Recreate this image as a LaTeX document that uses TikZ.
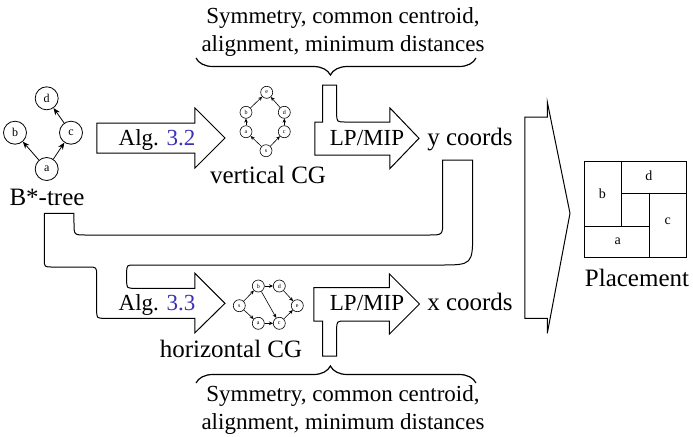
\documentclass[tikz,border=0pt]{standalone}
\usepackage{fontspec}
\setmainfont{Liberation Serif}
\usetikzlibrary{arrows.meta,decorations.pathreplacing}

\definecolor{refblue}{RGB}{60,50,180}

\tikzset{
  blk/.style={draw, line width=0.5pt, fill=white},
  tnode/.style={circle, draw, line width=0.4pt, minimum size=11.5pt, inner sep=0pt, font=\fontsize{6}{7}\selectfont},
  cgnode/.style={circle, draw, line width=0.3pt, minimum size=6pt, inner sep=0pt, font=\fontsize{3}{3.5}\selectfont},
  tedge/.style={-{Stealth[length=3.5pt,width=2.8pt]}, line width=0.4pt},
  cgedge/.style={-{Stealth[length=2pt,width=1.8pt]}, line width=0.3pt},
  lbl/.style={anchor=base, inner sep=0pt, font=\fontsize{12.5}{15}\selectfont},
  steplbl/.style={anchor=base, inner sep=0pt, font=\fontsize{11.5}{14}\selectfont},
  cstr/.style={align=center, inner sep=0pt, font=\fontsize{11.5}{14}\selectfont},
  room/.style={font=\fontsize{7}{8}\selectfont},
}

\begin{document}
\begin{tikzpicture}[x=0.5pt, y=-0.5pt]
    \useasboundingbox (0,0) rectangle (693,436);

    % B*-tree
    \node[tnode] (td) at (46.7,98.3) {d};
    \node[tnode] (tb) at (15,132.7) {b};
    \node[tnode] (tc) at (71,132.7) {c};
    \node[tnode] (ta) at (46.7,169) {a};
    \draw[tedge] (ta) -- (tb);
    \draw[tedge] (ta) -- (tc);
    \draw[tedge] (tc) -- (td);
    \node[lbl] (btree) at (47,205) {B*-tree};

    % band from B*-tree and y coords into Alg. 3.3
    \draw[blk] (44.3,213.3) -- (74,213.3) -- (74,223) .. controls (74,235) .. (86,235)
        -- (428.7,235) .. controls (442.7,235) .. (442.7,221)
        -- (442.7,160) -- (472.7,160) -- (472.7,231) .. controls (472.7,265) .. (438.7,265)
        -- (135,265) .. controls (126.7,265) .. (126.7,273) -- (126.7,280) .. controls (126.7,288.3) .. (135,288.3)
        -- (195,288.3) -- (195,273.3) -- (225,303.3) -- (195,332.7) -- (195,318.3)
        -- (105,318.3) .. controls (96.7,318.3) .. (96.7,310) -- (96.7,276) .. controls (96.7,267) .. (87.7,267)
        -- (52.3,267) .. controls (44.3,267) .. (44.3,259) -- cycle;
    \node[steplbl] (alg33) at (157,310.5) {Alg. \textcolor{refblue}{3.3}};

    % Alg. 3.2
    \draw[blk] (97,123) -- (195,123) -- (195,108) -- (225,138) -- (195,168) -- (195,153) -- (97,153) -- cycle;
    \node[steplbl] (alg32) at (157,145) {Alg. \textcolor{refblue}{3.2}};

    % vertical CG
    \node[cgnode] (ve) at (266.7,92.3) {e};
    \node[cgnode] (vb) at (246,112.3) {b};
    \node[cgnode] (vd) at (284.3,112.3) {d};
    \node[cgnode] (va) at (246,131.7) {a};
    \node[cgnode] (vc) at (284.3,131.7) {c};
    \node[cgnode] (vs) at (266,150.7) {s};
    \draw[cgedge] (vs) -- (va);
    \draw[cgedge] (vs) -- (vc);
    \draw[cgedge] (va) -- (vb);
    \draw[cgedge] (vc) -- (vd);
    \draw[cgedge] (vb) -- (ve);
    \draw[cgedge] (vd) -- (ve);
    \node[lbl] (vcg) at (268,183) {vertical CG};

    % horizontal CG
    \node[cgnode] (hs) at (239.3,305.7) {s};
    \node[cgnode] (hb) at (258.3,286) {b};
    \node[cgnode] (hd) at (279.3,286) {d};
    \node[cgnode] (ha) at (258.3,323.3) {a};
    \node[cgnode] (hc) at (279.3,323.3) {c};
    \node[cgnode] (he) at (297.3,305.7) {e};
    \draw[cgedge] (hs) -- (hb);
    \draw[cgedge] (hs) -- (ha);
    \draw[cgedge] (hb) -- (hd);
    \draw[cgedge] (ha) -- (hc);
    \draw[cgedge] (hb) -- (hc);
    \draw[cgedge] (hd) -- (he);
    \draw[cgedge] (hc) -- (he);
    \node[lbl] (hcg) at (231,357) {horizontal CG};

    % LP/MIP arrows
    \draw[blk] (315,155) -- (315,122) -- (322.7,122) -- (322.7,85) -- (336.7,85) -- (336.7,113)
        .. controls (336.7,122) .. (345.7,122)
        -- (390,122) -- (390,108) -- (419,138.3) -- (390,168.5) -- (390,155) -- cycle;
    \node[steplbl] (lpy) at (367,145) {LP/MIP};
    \node[lbl] (ycoords) at (470,145) {y coords};

    \draw[blk] (314,287.5) -- (389.5,287.5) -- (389.5,274) -- (419.5,304) -- (389.5,334) -- (389.5,321)
        -- (345.7,321) .. controls (336.7,321) .. (336.7,330)
        -- (336.7,356) -- (322.7,356) -- (322.7,321) -- (314,321) -- cycle;
    \node[steplbl] (lpx) at (367,310) {LP/MIP};
    \node[lbl] (xcoords) at (470,310) {x coords};

    % constraints
    \draw[line width=0.6pt, decorate, decoration={brace, amplitude=8.5pt, aspect=0.52}] (476,58) -- (196,58);
    \node[cstr] (ctop) at (343,32) {Symmetry, common centroid,\\alignment, minimum distances};
    \draw[line width=0.6pt, decorate, decoration={brace, amplitude=8.5pt, aspect=0.48}] (196,383) -- (476,383);
    \node[cstr] (cbot) at (343,410) {Symmetry, common centroid,\\alignment, minimum distances};

    % merge
    \draw[blk] (525,117) -- (547.3,117) -- (547.3,102) -- (570,213.3) -- (547.3,333.3) -- (547.3,318.3) -- (525,318.3) -- cycle;

    % placement
    \draw[line width=0.5pt] (585,161) rectangle (686.7,257.7);
    \draw[line width=0.5pt] (621.7,161) -- (621.7,226);
    \draw[line width=0.5pt] (621.7,193.3) -- (686.7,193.3);
    \draw[line width=0.5pt] (649.3,193.3) -- (649.3,257.7);
    \draw[line width=0.5pt] (585,226) -- (649.3,226);
    \node[room] (pb) at (602.3,193.3) {b};
    \node[room] (pd) at (649,175.7) {d};
    \node[room] (pc) at (667.7,221.7) {c};
    \node[room] (pa) at (617.7,241) {a};
    \node[lbl] (place) at (637,286.7) {Placement};
\end{tikzpicture}
\end{document}
